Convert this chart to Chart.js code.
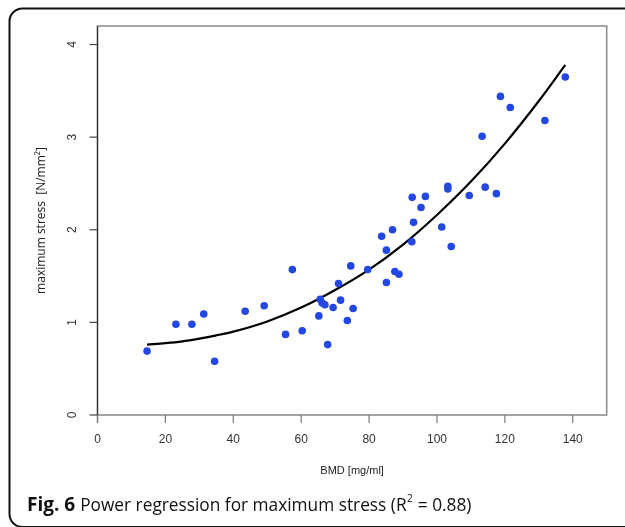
<!DOCTYPE html>
<html>
<head>
<meta charset="utf-8">
<script src="https://cdn.jsdelivr.net/npm/chart.js@4/dist/chart.umd.min.js"></script>
<style>
  html, body { margin: 0; padding: 0; background: #fff; }
  #wrap { width: 625px; height: 527px; position: relative; }
  canvas { display: block; }
</style>
</head>
<body>
<div id="wrap"><canvas id="c" width="625" height="527"></canvas></div>
<script>
// ---- data ----
const bmd = [14.6, 23.1, 27.8, 31.3, 34.5, 43.5, 49.1, 55.4, 57.4, 60.3, 65.2, 65.6, 66.2, 67.0, 67.8,
             69.4, 71.0, 71.6, 73.6, 74.6, 75.3, 79.6, 83.7, 85.1, 85.1, 86.9, 87.6, 88.8, 92.7, 92.6,
             93.1, 95.3, 96.6, 101.4, 103.2, 103.2, 104.2, 109.5, 113.3, 114.2, 117.5, 118.7, 121.6, 131.8, 137.8];
const stress = [0.69, 0.98, 0.98, 1.09, 0.58, 1.12, 1.18, 0.87, 1.57, 0.91, 1.07, 1.25, 1.21, 1.19, 0.76,
                1.16, 1.42, 1.24, 1.02, 1.61, 1.15, 1.57, 1.93, 1.78, 1.43, 2.00, 1.55, 1.52, 2.35, 1.87,
                2.08, 2.24, 2.36, 2.03, 2.44, 2.47, 1.82, 2.37, 3.01, 2.46, 2.39, 3.44, 3.32, 3.18, 3.65];
const fitX = [14.6, 20, 25, 30, 35, 40, 50, 60, 70, 80, 90, 100, 110, 120, 130, 137.8];
const fitY = [0.76, 0.775, 0.795, 0.825, 0.86, 0.90, 1.01, 1.16, 1.35, 1.57, 1.84, 2.16, 2.52, 2.93, 3.39, 3.78];
const xTicks = [0, 20, 40, 60, 80, 100, 120, 140];
const yTicks = [0, 1, 2, 3, 4];
const xTitle = 'BMD [mg/ml]';
const yTitle = 'maximum stress  [N/mm\u00B2]';

const points = bmd.map((v, i) => ({ x: v, y: stress[i] }));
const curve = fitX.map((v, i) => ({ x: v, y: fitY[i] }));

const decor = {
  id: 'decor',
  beforeDatasetsDraw(chart) {
    const ctx = chart.ctx;
    const a = chart.chartArea;
    const xs = chart.scales.x, ys = chart.scales.y;
    ctx.save();
    // outer rounded frame
    ctx.strokeStyle = '#111';
    ctx.lineWidth = 2;
    ctx.beginPath();
    ctx.roundRect(9.5, 8.5, 700, 518.5, 13);
    ctx.stroke();
    // plot box
    ctx.strokeStyle = '#8f8f8f';
    ctx.lineWidth = 1.6;
    ctx.strokeRect(a.left, a.top, a.right - a.left, a.bottom - a.top);
    // y axis line
    ctx.strokeStyle = '#333';
    ctx.lineWidth = 1.2;
    ctx.beginPath();
    ctx.moveTo(a.left, ys.getPixelForValue(0) + 8);
    ctx.lineTo(a.left, a.top);
    ctx.stroke();
    // y ticks + labels
    ctx.fillStyle = '#333';
    ctx.font = '12px "Liberation Sans", Arial, sans-serif';
    yTicks.forEach(t => {
      const py = ys.getPixelForValue(t);
      ctx.strokeStyle = '#444';
      ctx.beginPath();
      ctx.moveTo(a.left - 8, py);
      ctx.lineTo(a.left, py);
      ctx.stroke();
      ctx.save();
      ctx.translate(73, py);
      ctx.rotate(-Math.PI / 2);
      ctx.textAlign = 'center';
      ctx.textBaseline = 'middle';
      ctx.fillText(String(t), 0, 0);
      ctx.restore();
    });
    // x ticks + labels
    xTicks.forEach(t => {
      const px = xs.getPixelForValue(t);
      ctx.strokeStyle = '#7a7a7a';
      ctx.beginPath();
      ctx.moveTo(px, a.bottom);
      ctx.lineTo(px, a.bottom + 8);
      ctx.stroke();
      ctx.textAlign = 'center';
      ctx.textBaseline = 'middle';
      ctx.fillText(String(t), px, 440);
    });
    // axis titles
    ctx.fillStyle = '#222';
    ctx.font = '11px "Liberation Sans", Arial, sans-serif';
    ctx.textAlign = 'center';
    ctx.textBaseline = 'middle';
    ctx.fillText(xTitle, (a.left + a.right) / 2, 471);
    ctx.save();
    ctx.translate(42, (a.top + a.bottom) / 2);
    ctx.rotate(-Math.PI / 2);
    ctx.font = '12px "Open Sans", "Noto Sans", sans-serif';
    ctx.fillText(yTitle, 0, 0);
    ctx.restore();
    // caption
    ctx.fillStyle = '#111';
    ctx.textAlign = 'left';
    ctx.textBaseline = 'alphabetic';
    let x = 27;
    const base = 511;
    ctx.font = 'bold 19px "Open Sans", "Noto Sans", sans-serif';
    ctx.fillText('Fig. 6', x, base);
    x += ctx.measureText('Fig. 6').width + 5;
    ctx.font = '17.3px "Open Sans", "Noto Sans", sans-serif';
    const p1 = 'Power regression for maximum stress (R';
    ctx.fillText(p1, x, base);
    x += ctx.measureText(p1).width;
    ctx.font = '10px "Open Sans", "Noto Sans", sans-serif';
    ctx.fillText('2', x + 0.5, base - 9);
    x += ctx.measureText('2').width + 1;
    ctx.font = '17.3px "Open Sans", "Noto Sans", sans-serif';
    ctx.fillText(' = 0.88)', x, base);
    ctx.restore();
  }
};

new Chart(document.getElementById('c'), {
  type: 'scatter',
  data: {
    datasets: [
      {
        label: 'fit',
        type: 'line',
        data: curve,
        borderColor: '#000',
        borderWidth: 2.2,
        pointRadius: 0,
        fill: false,
        tension: 0.4,
        cubicInterpolationMode: 'monotone',
        order: 2
      },
      {
        label: 'samples',
        data: points,
        backgroundColor: '#2247e3',
        borderColor: '#2247e3',
        borderWidth: 0,
        pointRadius: 3.8,
        order: 1
      }
    ]
  },
  options: {
    responsive: false,
    animation: false,
    layout: { padding: { left: 97.5, top: 26, right: 18.3, bottom: 112 } },
    plugins: { legend: { display: false }, tooltip: { enabled: false } },
    scales: {
      x: { type: 'linear', min: 0, max: 150, display: false },
      y: { type: 'linear', min: 0, max: 4.2, display: false }
    }
  },
  plugins: [decor]
});
</script>
</body>
</html>
